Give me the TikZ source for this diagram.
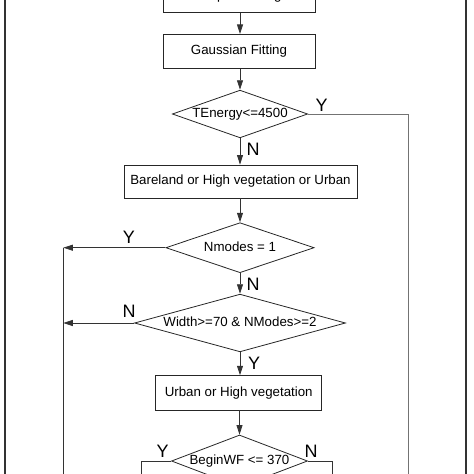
\documentclass[tikz,border=0pt]{standalone}
\usepackage{fontspec}
\setmainfont{Liberation Sans}
\usetikzlibrary{shapes.geometric,arrows.meta}
\begin{document}
\begin{tikzpicture}[x=1pt,y=1pt,
  every node/.style={font=\fontsize{13.3}{16}\selectfont, text height=9.6pt, text depth=2.8pt},
  procbox/.style={draw=black!85, line width=0.8pt, rectangle, inner sep=0pt},
  decision/.style={draw=black!85, line width=0.8pt, shape=diamond, inner sep=0pt},
  yn/.style={font=\fontsize{18}{20}\selectfont, inner sep=0pt, text height=12.9pt, text depth=0pt},
  conn/.style={draw=black!80, line width=0.8pt},
  arr/.style={conn, -{Triangle[length=9.5pt,width=6pt]}},
  frame/.style={draw=black!80, line width=1.6pt}
]
\useasboundingbox (0,0) rectangle (474,-474);
% outer frame
\coordinate (fl1) at (5,20);
\coordinate (fl2) at (5,-490);
\coordinate (fr1) at (466,20);
\coordinate (fr2) at (466,-490);
\draw[frame] (fl1) -- (fl2);
\draw[frame] (fr1) -- (fr2);

% nodes
\node[procbox, minimum width=152pt, minimum height=34pt] (pre) at (239,4.3) {Preprocessing};
\node[procbox, minimum width=152pt, minimum height=34pt] (gauss) at (239,-51.3) {Gaussian Fitting};
\node[decision, minimum width=135.3pt, minimum height=47.7pt, aspect=2.84] (d1) at (240,-114) {TEnergy<=4500};
\node[procbox, minimum width=233pt, minimum height=33pt] (bare) at (240.5,-181.5) {Bareland or High vegetation or Urban};
\node[decision, minimum width=148.3pt, minimum height=50pt, aspect=2.97] (d2) at (240,-247.7) {Nmodes = 1};
\node[decision, minimum width=211pt, minimum height=57.7pt, aspect=3.66] (d3) at (240,-323) {Width>=70 \& NModes>=2};
\node[procbox, minimum width=166pt, minimum height=34.3pt] (urban) at (238.7,-392.8) {Urban or High vegetation};
\node[decision, minimum width=136pt, minimum height=52pt, aspect=2.63] (d4) at (239.5,-461) {BeginWF <= 370};

% labels
\node[yn] (y1) at (321.5,-105) {Y};
\node[yn] (n1) at (253,-149.5) {N};
\node[yn] (y2) at (129,-237.5) {Y};
\node[yn] (n2) at (253,-284) {N};
\node[yn] (n3) at (129,-311) {N};
\node[yn] (y3) at (254,-363) {Y};
\node[yn] (y4) at (162.7,-451) {Y};
\node[yn] (n4) at (311,-451) {N};

% helper coordinates
\coordinate (r1) at (408,-114);
\coordinate (r2) at (408,-490);
\coordinate (l1) at (63.3,-247.7);
\coordinate (l2) at (63.3,-490);
\coordinate (l3) at (63.3,-323);
\coordinate (a1) at (141.7,-461);
\coordinate (a2) at (141.7,-490);
\coordinate (b1) at (332,-461);
\coordinate (b2) at (332,-490);

% connectors
\draw[arr] (pre.south -| 240,0) -- (gauss.north -| 240,0);
\draw[arr] (gauss.south -| 240,0) -- (d1.north);
\draw[arr] (d1.south) -- (bare.north -| d1.south);
\draw[conn, draw=black!55] (d1.east) -- (r1) -- (r2);
\draw[arr] (bare.south -| d2.north) -- (d2.north);
\draw[arr] (d2.west) -- (l1);
\draw[conn] (l1) -- (l2);
\draw[arr] (d2.south) -- (d3.north);
\draw[arr] (d3.west) -- (l3);
\draw[arr] (d3.south) -- (urban.north -| d3.south);
\draw[arr] (urban.south -| d4.north) -- (d4.north);
\draw[conn] (d4.west) -- (a1) -- (a2);
\draw[conn] (d4.east) -- (b1) -- (b2);
\end{tikzpicture}
\end{document}
